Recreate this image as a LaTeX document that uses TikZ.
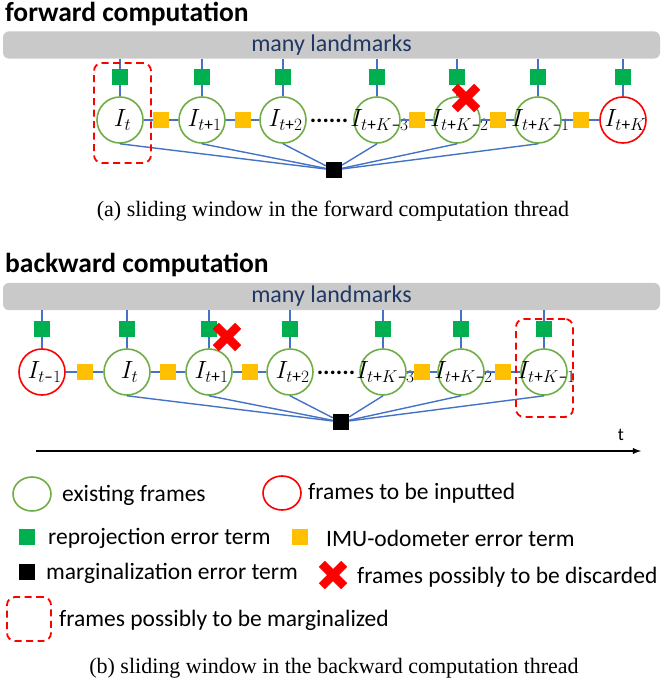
\documentclass[tikz,border=0pt]{standalone}
\usepackage{amsmath}
\usepackage{fontspec}
\setmainfont{Carlito}
\newfontfamily\capfont{Liberation Serif}
\usetikzlibrary{shapes.geometric}
\DeclareMathSizes{25}{25}{17.28}{12}
\newcommand\frameI[1]{\makebox[0pt]{\hspace{5pt}$I_{#1}$}}
\newcommand\plusI{\text{+}}
\newcommand\minusI{\text{\textendash}}
\tikzstyle{xmark} = [minimum size=22pt, inner sep=0pt]
\tikzset{keyframe/.style={circle, draw=frame edge, line width=1.6pt, fill=white, minimum size=46pt, inner sep=0pt, font=\fontsize{25}{25}\selectfont},
    newframe/.style={keyframe, draw=red},
    reproj/.style={rectangle, fill=reproj green, minimum size=16pt, inner sep=0pt},
    imu/.style={reproj, fill=imu yellow},
    marg/.style={reproj, fill=black},
    link/.style={draw=link blue, line width=1.4pt},
    landmarks/.style={draw=none, fill=bar gray, rounded corners=6pt, minimum width=657pt, minimum height=26pt, text=bar text, font=\fontsize{24}{26}\selectfont},
    margbox/.style={draw=red, line width=1.8pt, dash pattern=on 7pt off 4.5pt, rounded corners=8pt},
    xline/.style={draw=red, line width=8.5pt},
    gap/.style={inner sep=0pt, font=\bfseries\fontsize{24}{24}\selectfont},
    title/.style={anchor=west, inner sep=0pt, font=\bfseries\fontsize{27.5}{30}\selectfont},
    caption/.style={inner sep=0pt, font=\capfont\fontsize{22}{24}\selectfont},
    legend/.style={anchor=west, inner sep=0pt, font=\fontsize{23.5}{26}\selectfont}}

\begin{document}
\begin{tikzpicture}[x=1pt, y=-1pt]
    % Definition of colours
    \definecolor{frame edge}{HTML}{70AD47}
    \definecolor{reproj green}{HTML}{00B050}
    \definecolor{imu yellow}{HTML}{FFC000}
    \definecolor{link blue}{HTML}{4472C4}
    \definecolor{bar gray}{RGB}{201,201,201}
    \definecolor{bar text}{HTML}{1F3864}
    \useasboundingbox (0,0) rectangle (663,687);
    %
    % (a) forward computation
    \node[title] (titleA) at (5,14) {forward computation};
    \node[landmarks] (barA) at (331.5,45) {many landmarks};
    \foreach \n/\x/\s in {1/120/t, 2/202/t\plusI1, 3/283/t\plusI2, 4/377/t\plusI K\minusI3, 5/457/t\plusI K\minusI2, 6/538/t\plusI K\minusI1}
        \node[keyframe] (fA\n) at (\x,120) {\frameI{\s}};
    \node[newframe] (fA7) at (623,120) {\frameI{t\plusI K}};
    \node[gap] (gapA) at (329,121) {......};
    \node[marg] (margA) at (334,170) {};
    \foreach \n in {1,...,7}
        \draw[link] (barA.south -| fA\n) -- node[reproj] {} (fA\n);
    \foreach \a/\b in {1/2, 2/3, 4/5, 5/6, 6/7}
        \draw[link] (fA\a) -- node[imu] {} (fA\b);
    \foreach \n in {1,...,6}
        \draw[link] (fA\n.south) -- (margA);
    \node[margbox, minimum width=57pt, minimum height=100pt] (winA) at (122.5,113) {};
    \node[xmark] (dropA) at (466,98) {};
    \draw[xline] (dropA.south west) -- (dropA.north east) (dropA.north west) -- (dropA.south east);
    \node[caption] (capA) at (333,211) {(a) sliding window in the forward computation thread};
    %
    % (b) backward computation
    \node[title] (titleB) at (5,265) {backward computation};
    \node[landmarks] (barB) at (331.5,296.5) {many landmarks};
    \node[newframe] (fB1) at (42,372) {\frameI{t\minusI1}};
    \foreach \n/\x/\s in {2/127/t, 3/209/t\plusI1, 4/290/t\plusI2, 5/383/t\plusI K\minusI3, 6/461/t\plusI K\minusI2, 7/544/t\plusI K\minusI1}
        \node[keyframe] (fB\n) at (\x,372) {\frameI{\s}};
    \node[gap] (gapB) at (336,373) {......};
    \node[marg] (margB) at (341,422) {};
    \foreach \n in {1,...,7}
        \draw[link] (barB.south -| fB\n) -- node[reproj] {} (fB\n);
    \foreach \a/\b in {1/2, 2/3, 3/4, 5/6, 6/7}
        \draw[link] (fB\a) -- node[imu] {} (fB\b);
    \foreach \n in {2,...,7}
        \draw[link] (fB\n.south) -- (margB);
    \node[margbox, minimum width=57pt, minimum height=98pt] (winB) at (544.5,368) {};
    \node[xmark] (dropB) at (227,337) {};
    \draw[xline] (dropB.south west) -- (dropB.north east) (dropB.north west) -- (dropB.south east);
    %
    % time axis
    \coordinate (axisL) at (36,451);
    \coordinate (axisR) at (641,451);
    \draw[-latex, line width=1.8pt] (axisL) -- (axisR);
    \node[inner sep=0pt, font=\fontsize{18}{20}\selectfont] (tlabel) at (621,435) {t};
    %
    % legend
    \node[ellipse, draw=frame edge, line width=1.6pt, minimum width=38pt, minimum height=34pt, inner sep=0pt] (lgOld) at (32,494) {};
    \node[legend] (lgOldT) at (62,495) {existing frames};
    \node[ellipse, draw=red, line width=1.6pt, minimum width=38pt, minimum height=34pt, inner sep=0pt] (lgNew) at (282,493) {};
    \node[legend] (lgNewT) at (308,493) {frames to be inputted};
    \node[reproj] (lgRep) at (27,537) {};
    \node[legend] (lgRepT) at (48,538) {reprojection error term};
    \node[imu] (lgImu) at (300,537) {};
    \node[legend] (lgImuT) at (326,538) {IMU-odometer error term};
    \node[marg] (lgMarg) at (27,572) {};
    \node[legend] (lgMargT) at (46,573) {marginalization error term};
    \node[xmark] (lgDrop) at (333,575) {};
    \draw[xline] (lgDrop.south west) -- (lgDrop.north east) (lgDrop.north west) -- (lgDrop.south east);
    \node[legend] (lgDropT) at (357,577) {frames possibly to be discarded};
    \node[margbox, minimum width=44pt, minimum height=44pt] (lgWin) at (29,619) {};
    \node[legend] (lgWinT) at (59,620) {frames possibly to be marginalized};
    \node[caption] (capB) at (334,668) {(b) sliding window in the backward computation thread};
\end{tikzpicture}
\end{document}
